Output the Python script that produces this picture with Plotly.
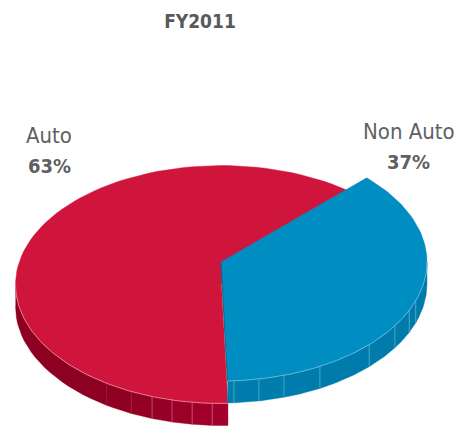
import math
import plotly.graph_objects as go

categories = ["Auto", "Non Auto"]
shares = [63, 37]
chart_title = "FY2011"

W, H = 458, 426
START = 45.0
RX, RY, DEPTH = 206.0, 119.0, 22.0
CENTERS = {"Auto": (221.5, 284.5), "Non Auto": (221.0, 262.0)}
TOP = {"Auto": "#d0153c", "Non Auto": "#008dc1"}
RIM = {"Auto": "#ec8fa3", "Non Auto": "#74bfdd"}
LABELS = {"Auto": (49, 135, 166), "Non Auto": (408.5, 131, 162)}
FONT = "DejaVu Sans Condensed, Roboto, sans-serif"
# wall facets: (angle from, angle to, colour, seam colour at the facet's start)
WALL_STOPS = {
    "Auto": [(270, 214, "#8c0022", None), (214, 206, "#8f0023", "#970a2e"), (206, 199.7, "#920024", "#a0183c"),
             (199.7, 193.9, "#960026", "#c9668a"), (193.9, 188.2, "#9b0027", "#c9668a"),
             (188.2, 182.6, "#a00029", "#c9668a"), (182.6, 178.2, "#a4002b", "#c9668a")],
    "Non Auto": [(178.2, 176.4, "#007eae", None), (176.4, 169.4, "#007dad", "#5fb0d0"), (169.4, 162.2, "#007dad", "#5fb0d0"),
                 (162.2, 151.3, "#007cac", "#5fb0d0"), (151.3, 134, "#007cac", "#5fb0d0"), (134, 122.4, "#007bab", "#5fb0d0"),
                 (122.4, 114, "#007bab", "#5fb0d0"), (114, 109, "#007aaa", "#5fb0d0"), (109, 90, "#007aaa", "#5fb0d0")],
}


def arc(c, a0, a1, dy=0.0, n=90):
    cx, cy = c
    pts = [a0 + (a1 - a0) * i / n for i in range(n + 1)]
    return ([cx + RX * math.sin(math.radians(a)) for a in pts],
            [cy + dy - RY * math.cos(math.radians(a)) for a in pts])


def add(fig, x, y, fill=None, line=None, width=1.0):
    fig.add_trace(go.Scatter(
        x=x, y=y, mode="lines", hoverinfo="skip", showlegend=False,
        fill="toself" if fill else None, fillcolor=fill,
        line=dict(color=line or fill, width=width if line else 0.4),
    ))


fig = go.Figure()
total = sum(shares)
sweep_blue = 360.0 * shares[1] / total
a_blue0, a_blue1 = START, START + sweep_blue
a_red0, a_red1 = a_blue1, START + 360.0

for name, a0, a1 in (("Auto", a_red0, a_red1), ("Non Auto", a_blue0, a_blue1)):
    c = CENTERS[name]
    stops = WALL_STOPS[name]
    for s0, s1, col, _ in stops:
        ax, ay = arc(c, s0, s1, 0, 20)
        bx, by = arc(c, s1, s0, DEPTH, 20)
        add(fig, ax + bx, ay + by, fill=col)
    for s0, s1, _, seam in stops:
        if seam:
            ax, ay = arc(c, s0, s0, 0, 1)
            bx, by = arc(c, s0, s0, DEPTH, 1)
            add(fig, [ax[0], bx[0]], [ay[0], by[0]], line=seam, width=0.7)
    ax, ay = arc(c, a0, a1)
    add(fig, [c[0]] + ax + [c[0]], [c[1]] + ay + [c[1]], fill=TOP[name])
    vis0 = max(a0, 90) if name == "Non Auto" else a0
    vis1 = min(a1, 270)
    rx_, ry_ = arc(c, vis0, vis1)
    add(fig, rx_, ry_, line=RIM[name], width=0.8)

# dark cut edge on the boundary between the two slices
c = CENTERS["Non Auto"]
ex, ey = arc(c, a_blue1, a_blue1, 0, 1)
add(fig, [c[0], ex[0]], [c[1], ey[0]], line="#0a5f86", width=0.9)

annotations = []
for name, share in zip(categories, shares):
    x, y1, y2 = LABELS[name]
    annotations.append(dict(x=x, y=y1, text=name, showarrow=False, xanchor="center", yanchor="middle",
                            font=dict(family=FONT, size=22, color="#5f6062")))
    annotations.append(dict(x=x, y=y2, text=f"<b>{share}%</b>", showarrow=False, xanchor="center", yanchor="middle",
                            font=dict(family=FONT, size=20, color="#5f6062")))

fig.update_layout(
    width=W, height=H, margin=dict(l=0, r=0, t=0, b=0),
    paper_bgcolor="white", plot_bgcolor="white", showlegend=False,
    title=dict(text=f"<b>{chart_title}</b>", x=200 / W, y=1 - 21 / H, xanchor="center", yanchor="middle",
               font=dict(family=FONT, size=19, color="#58595b")),
    xaxis=dict(range=[0, W], visible=False, fixedrange=True),
    yaxis=dict(range=[H, 0], visible=False, fixedrange=True),
    annotations=annotations,
)
fig.write_html("out.html", config={"displayModeBar": False},
               post_script="document.body.style.margin='0';document.documentElement.style.overflow='hidden';")
